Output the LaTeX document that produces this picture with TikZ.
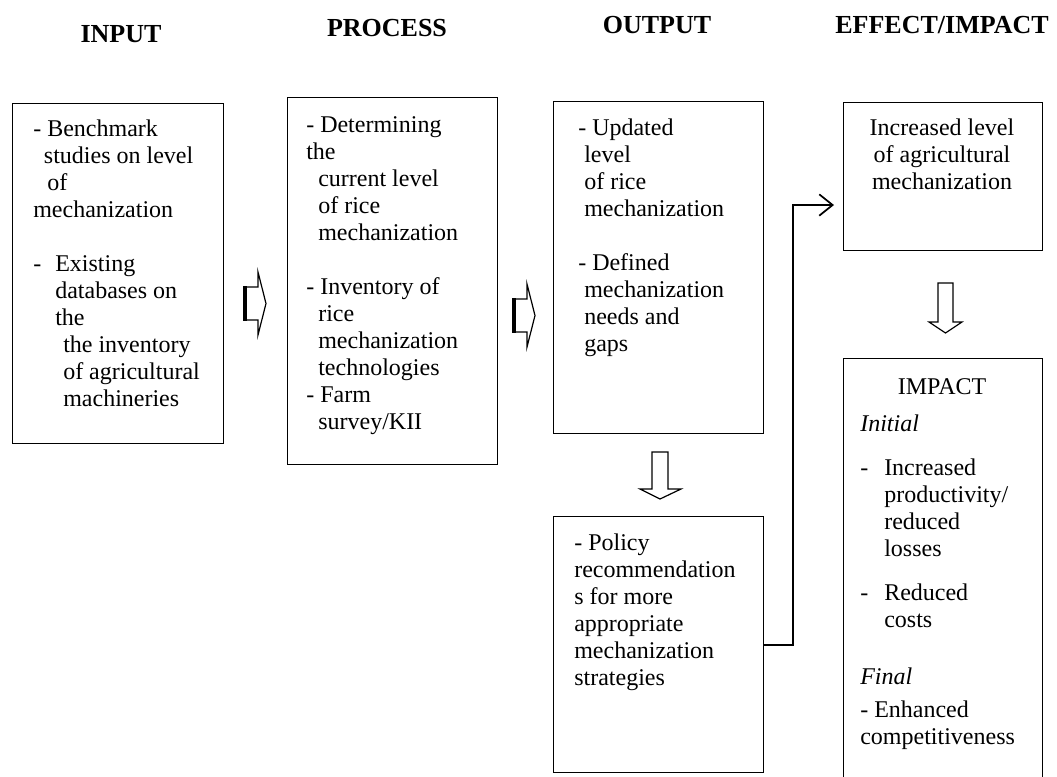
\documentclass[tikz,border=0pt]{standalone}
\usepackage{fontspec}
\setmainfont{Liberation Serif}
\usetikzlibrary{positioning,arrows.meta}

\newcommand{\pxu}{0.75pt}

\tikzset{
    box/.style={draw, line width=1.1pt, inner sep=0pt, anchor=north west},
    txt/.style={align=left, inner sep=0pt, anchor=north west,
        font=\fontsize{18pt}{20.25pt}\selectfont},
    head/.style={inner sep=0pt, font=\fontsize{19.5pt}{22pt}\selectfont\bfseries},
    blk/.style={draw, line width=0.9pt, line join=miter},
    conn/.style={line width=1.3pt, -{Straight Barb[length=10pt,width=16pt,line width=1.3pt]}}
}

\begin{document}
\begin{tikzpicture}[x=\pxu, y=-\pxu]
    \useasboundingbox (0,0) rectangle (1057,776);

    % Column headings
    \node[head] (inHead)  at (121,34) {INPUT};
    \node[head] (prHead)  at (387,28) {PROCESS};
    \node[head] (outHead) at (657,25) {OUTPUT};
    \node[head] (effHead) at (942,25) {EFFECT/IMPACT};

    % Boxes
    \node[box, minimum width=211*\pxu, minimum height=340*\pxu] (inBox)  at (12,103)  {};
    \node[box, minimum width=210*\pxu, minimum height=367*\pxu] (prBox)  at (287,97)  {};
    \node[box, minimum width=210*\pxu, minimum height=332*\pxu] (outBox) at (553,101) {};
    \node[box, minimum width=210*\pxu, minimum height=256*\pxu] (polBox) at (553,516) {};
    \node[box, minimum width=199*\pxu, minimum height=148*\pxu] (effBox) at (843,102) {};
    \node[box, minimum width=199*\pxu, minimum height=425*\pxu] (impBox) at (843,358) {};

    % Input
    \node[txt] (inTxt) at (33,120) {- Benchmark\\
        \hspace*{8pt}studies on level\\
        \hspace*{10.5pt}of\\
        mechanization\\[20.25pt]
        \makebox[16.5pt][l]{-}Existing\\
        \hspace*{16.5pt}databases on\\
        \hspace*{16.5pt}the\\
        \hspace*{22.5pt}the inventory\\
        \hspace*{22.5pt}of agricultural\\
        \hspace*{22.5pt}machineries};

    % Process
    \node[txt] (prTxt) at (306,116) {- Determining\\
        the\\
        \hspace*{9pt}current level\\
        \hspace*{9pt}of rice\\
        \hspace*{9pt}mechanization\\[20.25pt]
        - Inventory of\\
        \hspace*{9pt}rice\\
        \hspace*{9pt}mechanization\\
        \hspace*{9pt}technologies\\
        - Farm\\
        \hspace*{9pt}survey/KII};

    % Output
    \node[txt] (outTxt) at (578,119) {- Updated\\
        \hspace*{4.5pt}level\\
        \hspace*{4.5pt}of rice\\
        \hspace*{4.5pt}mechanization\\[20.25pt]
        - Defined\\
        \hspace*{4.5pt}mechanization\\
        \hspace*{4.5pt}needs and\\
        \hspace*{4.5pt}gaps};

    \node[txt] (polTxt) at (574,534) {- Policy\\
        recommendation\\
        s for more\\
        appropriate\\
        mechanization\\
        strategies};

    % Effect / impact
    \node[txt, align=center, anchor=north] (effTxt) at (942,119) {Increased level\\
        of agricultural\\
        mechanization};

    \node[txt, anchor=center] (impTitle) at (942,387) {IMPACT};
    \node[txt] (impTxt) at (860,415) {\textit{Initial}\\[12.75pt]
        \makebox[18pt][l]{-}Increased\\
        \hspace*{18pt}productivity/\\
        \hspace*{18pt}reduced\\
        \hspace*{18pt}losses\\[12.75pt]
        \makebox[18pt][l]{-}Reduced\\
        \hspace*{18pt}costs\\[22.5pt]
        \textit{Final}\\[4.5pt]
        - Enhanced\\
        competitiveness};

    % Block arrows between columns
    \draw[blk] (245,287) -- (258,287) -- (258,272) -- (266,303.5) -- (258,335)
        -- (258,320) -- (245,320) -- cycle;
    \draw[line width=2.4pt] (245,286) -- (245,321);
    \draw[blk] (514,299) -- (527,299) -- (527,284) -- (535,315.5) -- (527,347)
        -- (527,332) -- (514,332) -- cycle;
    \draw[line width=2.4pt] (514,298) -- (514,333);

    % Down arrows
    \draw[blk] (652,452) -- (668,452) -- (668,489) -- (681,489) -- (660,499)
        -- (640,489) -- (652,489) -- cycle;
    \draw[blk] (938,283) -- (953,283) -- (953,322) -- (962,322) -- (945.5,333)
        -- (929,322) -- (938,322) -- cycle;

    % Policy to effect
    \coordinate (turn) at (793,205);
    \coordinate (tip) at (834,205);
    \draw[conn] (polBox.east) -| (turn) -- (tip);
\end{tikzpicture}
\end{document}
